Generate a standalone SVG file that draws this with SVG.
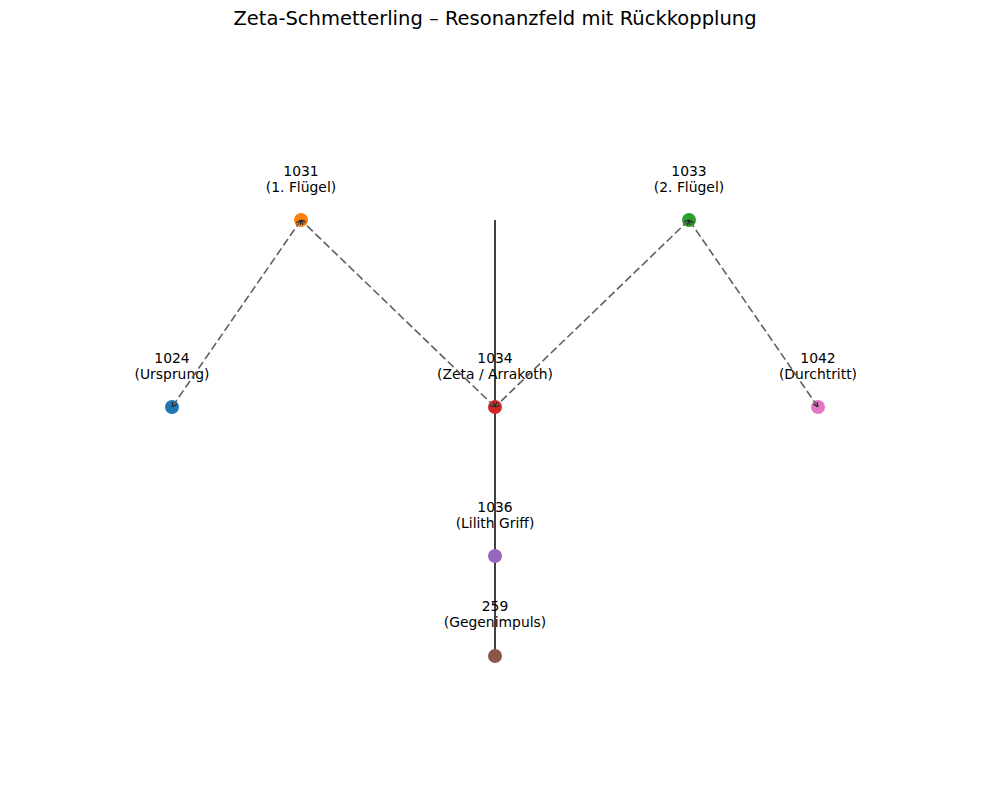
<svg xmlns="http://www.w3.org/2000/svg" width="989" height="790" viewBox="0 0 989 790">
<defs>
<marker id="ah" viewBox="0 0 10 10" refX="10" refY="5" markerWidth="5" markerHeight="5" orient="auto-start-reverse" markerUnits="userSpaceOnUse">
<path d="M0,0 L10,5 L0,10" fill="none" stroke="#222" stroke-width="2"/>
</marker>
</defs>
<style>
text{font-family:"DejaVu Sans",sans-serif;fill:#000;text-anchor:middle}
.lbl{font-size:13.9px}
.title{font-size:19.5px}
.dash{stroke:#606060;stroke-width:1.6;stroke-dasharray:8,3.5;fill:none;marker-end:url(#ah);marker-start:url(#ah)}
.axis{stroke:#000;stroke-width:1.5}
</style>
<rect width="989" height="790" fill="#fff"/>
<text class="title" x="495" y="25">Zeta-Schmetterling – Resonanzfeld mit Rückkopplung</text>
<g id="spine"><line class="axis" x1="495" y1="220" x2="495" y2="656"/></g>
<g id="n1024"><circle cx="172" cy="407" r="7" fill="#1f77b4"/><text class="lbl" x="172" y="363">1024</text><text class="lbl" x="172" y="379">(Ursprung)</text></g>
<g id="n1031"><circle cx="301" cy="220" r="7" fill="#ff7f0e"/><text class="lbl" x="301" y="176">1031</text><text class="lbl" x="301" y="192">(1. Flügel)</text></g>
<g id="n1034"><circle cx="495" cy="407" r="7" fill="#d62728"/><text class="lbl" x="495" y="363">1034</text><text class="lbl" x="495" y="379">(Zeta / Arrakoth)</text></g>
<g id="n1033"><circle cx="689" cy="220" r="7" fill="#2ca02c"/><text class="lbl" x="689" y="176">1033</text><text class="lbl" x="689" y="192">(2. Flügel)</text></g>
<g id="n1042"><circle cx="818" cy="407" r="7" fill="#e377c2"/><text class="lbl" x="818" y="363">1042</text><text class="lbl" x="818" y="379">(Durchtritt)</text></g>
<g id="n1036"><circle cx="495" cy="556" r="7" fill="#9467bd"/><text class="lbl" x="495" y="512">1036</text><text class="lbl" x="495" y="528">(Lilith Griff)</text></g>
<g id="n259"><circle cx="495" cy="656" r="7" fill="#8c564b"/><text class="lbl" x="495" y="611">259</text><text class="lbl" x="495" y="627">(Gegenimpuls)</text></g>
<g id="connectors">
<line class="dash" x1="301" y1="220" x2="172" y2="407"/>
<line class="dash" x1="495" y1="407" x2="301" y2="220"/>
<line class="dash" x1="689" y1="220" x2="495" y2="407"/>
<line class="dash" x1="818" y1="407" x2="689" y2="220"/>
</g>
</svg>
